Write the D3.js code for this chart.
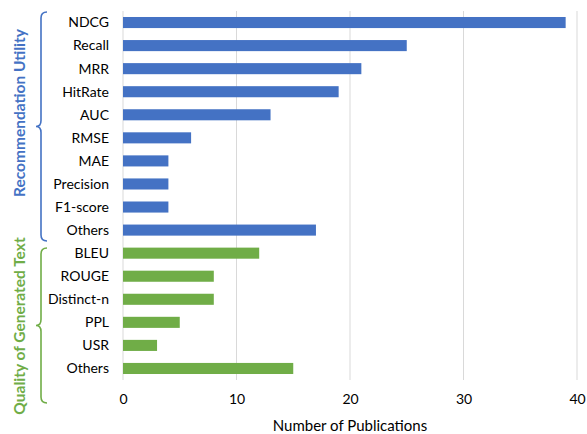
<!DOCTYPE html>
<html>
<head>
<meta charset="utf-8">
<script src="https://cdn.jsdelivr.net/npm/d3@7"></script>
<style>
  body { margin: 0; background: #fff; }
  svg text { font-family: Lato, "Open Sans", sans-serif; fill: #000; }
</style>
</head>
<body>
<div id="chart"></div>
<script>
// data
const metrics = ["NDCG","Recall","MRR","HitRate","AUC","RMSE","MAE","Precision","F1-score","Others",
                 "BLEU","ROUGE","Distinct-n","PPL","USR","Others "]
const counts = [39,25,21,19,13,6,4,4,4,17,12,8,8,5,3,15]
const groups = ["Recommendation Utility","Recommendation Utility","Recommendation Utility","Recommendation Utility",
                "Recommendation Utility","Recommendation Utility","Recommendation Utility","Recommendation Utility",
                "Recommendation Utility","Recommendation Utility",
                "Quality of Generated Text","Quality of Generated Text","Quality of Generated Text",
                "Quality of Generated Text","Quality of Generated Text","Quality of Generated Text"]
const groupNames = ["Recommendation Utility","Quality of Generated Text"]
const groupColor = {"Recommendation Utility":"#4472C4","Quality of Generated Text":"#70AD47"}
const xTicks = [0,10,20,30,40]

const width = 587, height = 434
const margin = {top:11, right:10, bottom:54, left:123}
const plotW = 577 - margin.left
const plotH = height - margin.top - margin.bottom

function translate(x,y){return `translate(${x}, ${y})`}

const svg = d3.select("#chart").append("svg").attr("width",width).attr("height",height)
const g = svg.append("g").attr("transform",translate(margin.left,margin.top))

const x = d3.scaleLinear().domain([0,40]).range([0,plotW])
const y = d3.scaleBand().domain(metrics).range([0,plotH]).paddingInner(0.52).paddingOuter(0.26)

// gridlines
g.append("g").selectAll("line").data(xTicks).join("line")
  .attr("x1",d=>x(d)).attr("x2",d=>x(d))
  .attr("y1",0).attr("y2",plotH)
  .attr("stroke","#d9d9d9").attr("stroke-width",1)

// bars
g.append("g").selectAll("rect").data(metrics).join("rect")
  .attr("x",x(0))
  .attr("y",d=>y(d))
  .attr("width",(d,i)=>x(counts[i])-x(0))
  .attr("height",y.bandwidth())
  .attr("fill",(d,i)=>groupColor[groups[i]])

// category labels
g.append("g").selectAll("text").data(metrics).join("text")
  .attr("x",-14)
  .attr("y",d=>y(d)+y.bandwidth()/2)
  .attr("dy","0.35em")
  .attr("text-anchor","end")
  .style("font-size","14px")
  .text(d=>d.trim())

// x tick labels
const xAxis = d3.axisBottom(x).tickValues(xTicks).tickSize(0).tickPadding(14)
g.append("g").attr("transform",translate(0,plotH)).call(xAxis)
  .call(s=>s.select(".domain").remove())
  .selectAll("text").style("font-size","14px").style("font-family","Lato, 'Open Sans', sans-serif")

svg.append("text")
  .attr("x",margin.left+plotW/2).attr("y",431)
  .attr("text-anchor","middle")
  .style("font-size","15px")
  .text("Number of Publications")

// braces + group titles
function bracePath(x0, top, bottom, depth){
  const mid = (top+bottom)/2
  const c = 6
  return `M${x0+c},${top} Q${x0},${top} ${x0},${top+c} L${x0},${mid-c} Q${x0},${mid} ${x0-depth},${mid}`
       + ` Q${x0},${mid} ${x0},${mid+c} L${x0},${bottom-c} Q${x0},${bottom} ${x0+c},${bottom}`
}
const braceSpans = {
  "Recommendation Utility":[12,241],
  "Quality of Generated Text":[248,403]
}
const titleMid = {"Recommendation Utility":113,"Quality of Generated Text":326}
groupNames.forEach(name=>{
  const [t,b] = braceSpans[name]
  svg.append("path").attr("d",bracePath(41,t,b,5))
    .attr("fill","none").attr("stroke",groupColor[name]).attr("stroke-width",1.6)
  svg.append("text")
    .attr("transform",translate(25,titleMid[name])+" rotate(-90)")
    .attr("text-anchor","middle")
    .style("font-size","15.5px").style("font-weight","bold")
    .style("fill",groupColor[name])
    .text(name)
})
</script>
</body>
</html>
